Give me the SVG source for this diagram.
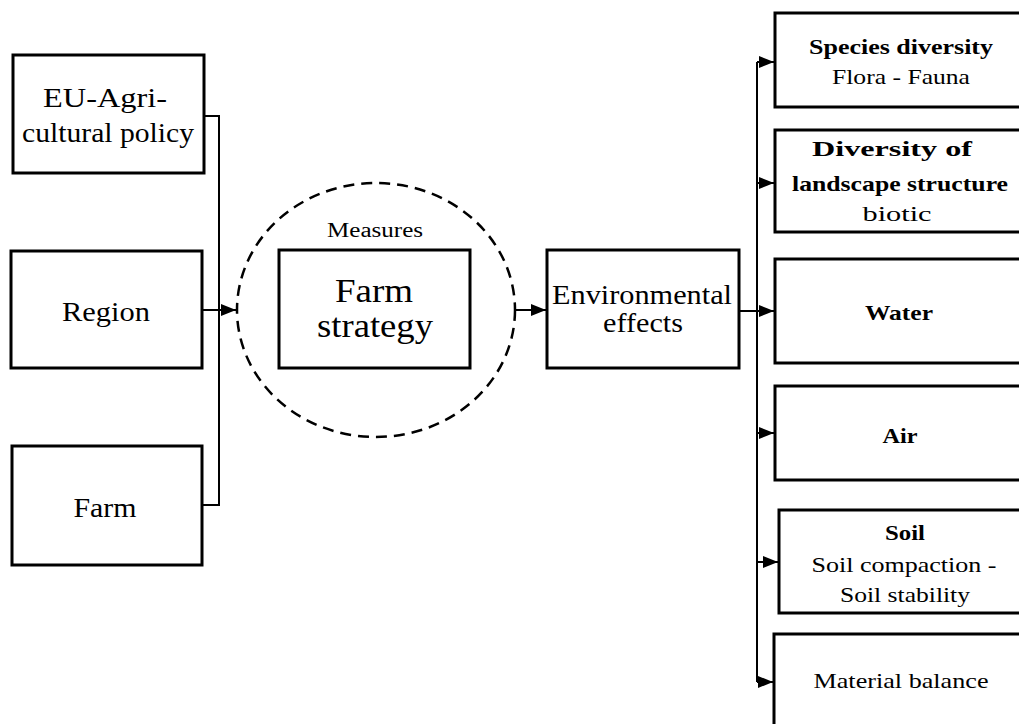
<svg xmlns="http://www.w3.org/2000/svg" width="1019" height="724" viewBox="0 0 1019 724">
<defs>
<style>
.box{fill:#fff;stroke:#000;stroke-width:3}
.ln{fill:none;stroke:#000;stroke-width:2}
.t{font-family:'Liberation Serif','DejaVu Serif',serif;fill:#000;text-anchor:middle}
.l{font-size:27px}
.r{font-size:21px}
.b{font-weight:bold}
</style>
<marker id="ah" markerUnits="userSpaceOnUse" markerWidth="16" markerHeight="12" refX="15" refY="6" orient="auto">
<path d="M0,0 L15,6 L0,12 Z" fill="#000"/>
</marker>
</defs>
<rect width="1019" height="724" fill="#fff"/>
<g id="connectors">
<polyline class="ln" points="204,116 219,116 219,505 202,505"/>
<line class="ln" x1="202" y1="310" x2="236" y2="310" marker-end="url(#ah)"/>
<line class="ln" x1="515" y1="310" x2="546" y2="310" marker-end="url(#ah)"/>
<line class="ln" x1="739" y1="311" x2="774" y2="311" marker-end="url(#ah)"/>
<line class="ln" x1="757" y1="62" x2="757" y2="682"/>
<line class="ln" x1="757" y1="62" x2="774" y2="62" marker-end="url(#ah)"/>
<line class="ln" x1="757" y1="183" x2="774" y2="183" marker-end="url(#ah)"/>
<line class="ln" x1="757" y1="433" x2="774" y2="433" marker-end="url(#ah)"/>
<line class="ln" x1="757" y1="562" x2="778" y2="562" marker-end="url(#ah)"/>
<line class="ln" x1="757" y1="682" x2="773" y2="682" marker-end="url(#ah)"/>
</g>
<g id="eu">
<rect class="box" x="13" y="55" width="191" height="118"/>
<text class="t l" x="105" y="107" font-family="Liberation Serif, serif" textLength="124" lengthAdjust="spacingAndGlyphs">EU-Agri-</text>
<text class="t l" x="108" y="142" font-family="Liberation Serif, serif" textLength="172" lengthAdjust="spacingAndGlyphs">cultural policy</text>
</g>
<g id="region">
<rect class="box" x="11" y="251" width="191" height="117"/>
<text class="t l" x="106" y="321" textLength="88" lengthAdjust="spacingAndGlyphs">Region</text>
</g>
<g id="farm">
<rect class="box" x="12" y="446" width="190" height="119"/>
<text class="t l" x="105" y="517" textLength="63" lengthAdjust="spacingAndGlyphs">Farm</text>
</g>
<g id="measures">
<ellipse cx="376" cy="310" rx="139" ry="127" fill="none" stroke="#000" stroke-width="2.5" stroke-dasharray="11,7"/>
<text class="t" style="font-size:20px" x="375" y="237" textLength="96" lengthAdjust="spacingAndGlyphs">Measures</text>
</g>
<g id="farmstrategy">
<rect class="box" x="279" y="250" width="191" height="118"/>
<text class="t" style="font-size:34px" x="374" y="302" textLength="78" lengthAdjust="spacingAndGlyphs">Farm</text>
<text class="t" style="font-size:34px" x="375" y="337" textLength="116" lengthAdjust="spacingAndGlyphs">strategy</text>
</g>
<g id="env">
<rect class="box" x="547" y="250" width="192" height="118"/>
<text class="t l" x="642" y="304" textLength="180" lengthAdjust="spacingAndGlyphs">Environmental</text>
<text class="t l" x="643" y="332" textLength="80" lengthAdjust="spacingAndGlyphs">effects</text>
</g>
<g id="species">
<rect class="box" x="775" y="13" width="260" height="94"/>
<text class="t r b" x="901" y="54" textLength="184" lengthAdjust="spacingAndGlyphs">Species diversity</text>
<text class="t r" x="901" y="84" textLength="138" lengthAdjust="spacingAndGlyphs">Flora - Fauna</text>
</g>
<g id="landscape">
<rect class="box" x="775" y="130" width="260" height="102"/>
<text class="t r b" x="892" y="156" textLength="160" lengthAdjust="spacingAndGlyphs">Diversity of</text>
<text class="t r b" x="900" y="191" textLength="216" lengthAdjust="spacingAndGlyphs">landscape structure</text>
<text class="t r" x="897" y="221" textLength="69" lengthAdjust="spacingAndGlyphs">biotic</text>
</g>
<g id="water">
<rect class="box" x="775" y="259" width="260" height="104"/>
<text class="t r b" x="899" y="320" textLength="68" lengthAdjust="spacingAndGlyphs">Water</text>
</g>
<g id="air">
<rect class="box" x="775" y="386" width="260" height="94"/>
<text class="t r b" x="900" y="443" textLength="35" lengthAdjust="spacingAndGlyphs">Air</text>
</g>
<g id="soil">
<rect class="box" x="779" y="510" width="256" height="103"/>
<text class="t r b" x="905" y="540" textLength="40" lengthAdjust="spacingAndGlyphs">Soil</text>
<text class="t r" x="904" y="572" textLength="185" lengthAdjust="spacingAndGlyphs">Soil compaction -</text>
<text class="t r" x="905" y="602" textLength="130" lengthAdjust="spacingAndGlyphs">Soil stability</text>
</g>
<g id="material">
<rect class="box" x="774" y="634" width="260" height="100"/>
<text class="t r" x="901" y="688" textLength="175" lengthAdjust="spacingAndGlyphs">Material balance</text>
</g>
</svg>
